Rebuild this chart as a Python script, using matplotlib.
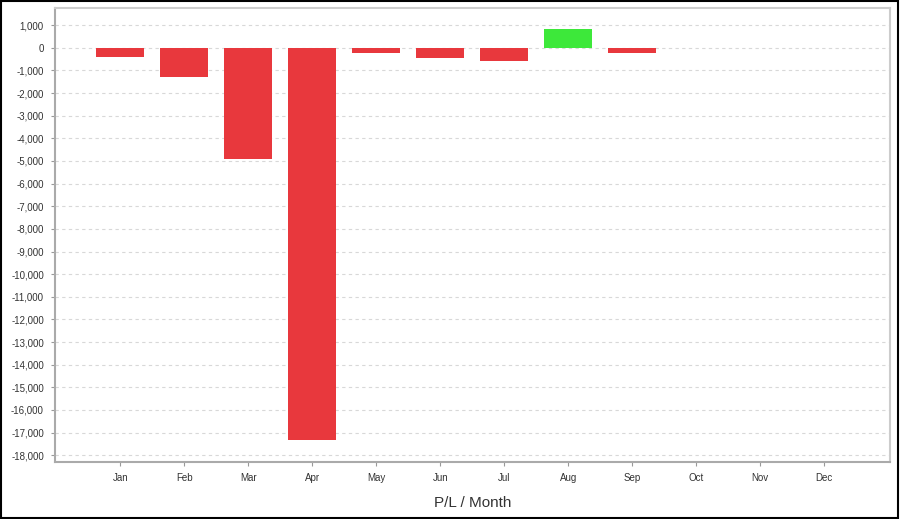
import matplotlib
matplotlib.use("Agg")
import matplotlib.pyplot as plt
import numpy as np
from matplotlib.patches import Rectangle

plt.rcParams["font.family"] = ["Liberation Sans", "DejaVu Sans"]

months = ["Jan", "Feb", "Mar", "Apr", "May", "Jun", "Jul", "Aug", "Sep", "Oct", "Nov", "Dec"]
pl_values = [-400, -1310, -4920, -17350, -210, -470, -600, 850, -240, 0, 0, 0]
y_ticks = list(range(-18000, 1001, 1000))

fig = plt.figure(figsize=(9, 5.19), dpi=100, facecolor="w")
ax = fig.add_axes([55 / 900, 1 - 462 / 519, (890 - 55) / 900, (462 - 8) / 519])

x = np.arange(len(months))
colors = ["#3de83a" if v > 0 else "#e8383d" for v in pl_values]
ax.bar(x, pl_values, width=0.75, color=colors, zorder=3)

ax.set_xlim(-1.02, 12.03)
ax.set_ylim(-18300, 1760)
ax.set_xticks(x)
ax.set_xticklabels(months)
ax.set_yticks(y_ticks)
ax.set_yticklabels(["{:,}".format(v) for v in y_ticks])
ax.tick_params(labelsize=7, length=3, color="#999999", labelcolor="#333333")
ax.tick_params(axis="y", pad=5)
ax.tick_params(axis="x", pad=5)
ax.yaxis.grid(True, ls=(0, (3, 3)), color="#d8d8d8", lw=0.8, zorder=0)

for side in ["left", "bottom"]:
    ax.spines[side].set_color("#aaaaaa")
    ax.spines[side].set_linewidth(1.5)
for side in ["top", "right"]:
    ax.spines[side].set_color("#cccccc")
    ax.spines[side].set_linewidth(1.5)

ax.set_xlabel("P/L / Month", fontsize=11, color="#333333", labelpad=9)

# black frame around the whole image
fig.patches.append(Rectangle((0.001, 0.002), 0.997, 0.996, transform=fig.transFigure,
                             fill=False, edgecolor="black", lw=1.5))

fig.savefig("out.png", dpi=100, facecolor="w")
